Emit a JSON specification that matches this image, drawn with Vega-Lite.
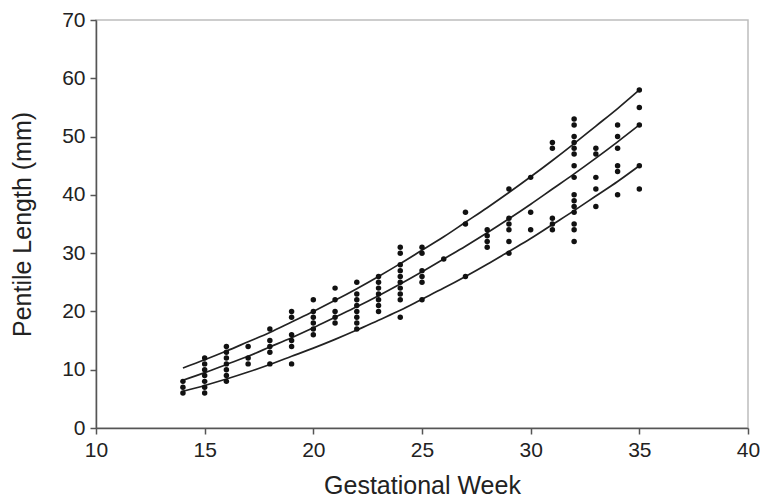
{
  "$schema": "https://vega.github.io/schema/vega-lite/v6.json",
  "width": 652,
  "height": 408,
  "autosize": {"type": "none"},
  "padding": {"left": 96, "top": 20, "right": 14, "bottom": 71},
  "background": "white",
  "config": {
    "font": "Liberation Sans",
    "view": {"stroke": "#bdbdbd", "strokeWidth": 1.5},
    "axis": {
      "grid": false,
      "labelFlush": false,
      "domainColor": "#555555",
      "domainWidth": 1.5,
      "tickColor": "#555555",
      "tickWidth": 1.5,
      "tickSize": 6,
      "labelFont": "Liberation Sans",
      "labelFontSize": 21,
      "labelColor": "#222222",
      "titleFont": "Liberation Sans",
      "titleFontSize": 25,
      "titleFontWeight": "normal",
      "titleColor": "#222222"
    }
  },
  "datasets": {
    "obs": [
      {"week": 14, "length": 6}, {"week": 14, "length": 7}, {"week": 14, "length": 8},
      {"week": 15, "length": 6}, {"week": 15, "length": 7}, {"week": 15, "length": 8}, {"week": 15, "length": 9}, {"week": 15, "length": 10}, {"week": 15, "length": 11}, {"week": 15, "length": 12},
      {"week": 16, "length": 8}, {"week": 16, "length": 9}, {"week": 16, "length": 10}, {"week": 16, "length": 11}, {"week": 16, "length": 12}, {"week": 16, "length": 13}, {"week": 16, "length": 14},
      {"week": 17, "length": 11}, {"week": 17, "length": 12}, {"week": 17, "length": 14},
      {"week": 18, "length": 11}, {"week": 18, "length": 13}, {"week": 18, "length": 14}, {"week": 18, "length": 15}, {"week": 18, "length": 17},
      {"week": 19, "length": 11}, {"week": 19, "length": 14}, {"week": 19, "length": 15}, {"week": 19, "length": 16}, {"week": 19, "length": 19}, {"week": 19, "length": 20},
      {"week": 20, "length": 16}, {"week": 20, "length": 17}, {"week": 20, "length": 18}, {"week": 20, "length": 19}, {"week": 20, "length": 20}, {"week": 20, "length": 22},
      {"week": 21, "length": 18}, {"week": 21, "length": 19}, {"week": 21, "length": 20}, {"week": 21, "length": 22}, {"week": 21, "length": 24},
      {"week": 22, "length": 17}, {"week": 22, "length": 18}, {"week": 22, "length": 19}, {"week": 22, "length": 20}, {"week": 22, "length": 21}, {"week": 22, "length": 22}, {"week": 22, "length": 23}, {"week": 22, "length": 25},
      {"week": 23, "length": 20}, {"week": 23, "length": 21}, {"week": 23, "length": 22}, {"week": 23, "length": 23}, {"week": 23, "length": 24}, {"week": 23, "length": 25}, {"week": 23, "length": 26},
      {"week": 24, "length": 19}, {"week": 24, "length": 22}, {"week": 24, "length": 23}, {"week": 24, "length": 24}, {"week": 24, "length": 25}, {"week": 24, "length": 26}, {"week": 24, "length": 27}, {"week": 24, "length": 28}, {"week": 24, "length": 30}, {"week": 24, "length": 31},
      {"week": 25, "length": 22}, {"week": 25, "length": 25}, {"week": 25, "length": 26}, {"week": 25, "length": 27}, {"week": 25, "length": 30}, {"week": 25, "length": 31},
      {"week": 26, "length": 29},
      {"week": 27, "length": 26}, {"week": 27, "length": 35}, {"week": 27, "length": 37},
      {"week": 28, "length": 31}, {"week": 28, "length": 32}, {"week": 28, "length": 33}, {"week": 28, "length": 34},
      {"week": 29, "length": 30}, {"week": 29, "length": 32}, {"week": 29, "length": 34}, {"week": 29, "length": 35}, {"week": 29, "length": 36}, {"week": 29, "length": 41},
      {"week": 30, "length": 34}, {"week": 30, "length": 37}, {"week": 30, "length": 43},
      {"week": 31, "length": 34}, {"week": 31, "length": 35}, {"week": 31, "length": 36}, {"week": 31, "length": 48}, {"week": 31, "length": 49},
      {"week": 32, "length": 32}, {"week": 32, "length": 34}, {"week": 32, "length": 35}, {"week": 32, "length": 37}, {"week": 32, "length": 38}, {"week": 32, "length": 39}, {"week": 32, "length": 40}, {"week": 32, "length": 43}, {"week": 32, "length": 45}, {"week": 32, "length": 47}, {"week": 32, "length": 48}, {"week": 32, "length": 49}, {"week": 32, "length": 50}, {"week": 32, "length": 52}, {"week": 32, "length": 53},
      {"week": 33, "length": 38}, {"week": 33, "length": 41}, {"week": 33, "length": 43}, {"week": 33, "length": 47}, {"week": 33, "length": 48},
      {"week": 34, "length": 40}, {"week": 34, "length": 44}, {"week": 34, "length": 45}, {"week": 34, "length": 48}, {"week": 34, "length": 50}, {"week": 34, "length": 52},
      {"week": 35, "length": 41}, {"week": 35, "length": 45}, {"week": 35, "length": 52}, {"week": 35, "length": 55}, {"week": 35, "length": 58}
    ],
    "curves": [
      {"curve": "upper", "week": 14, "length": 10.3}, {"curve": "upper", "week": 15, "length": 11.7}, {"curve": "upper", "week": 16, "length": 13.2}, {"curve": "upper", "week": 17, "length": 14.8}, {"curve": "upper", "week": 18, "length": 16.4}, {"curve": "upper", "week": 19, "length": 18.2}, {"curve": "upper", "week": 20, "length": 20.0}, {"curve": "upper", "week": 21, "length": 21.9}, {"curve": "upper", "week": 22, "length": 23.9}, {"curve": "upper", "week": 23, "length": 26.0}, {"curve": "upper", "week": 24, "length": 28.2}, {"curve": "upper", "week": 25, "length": 30.5}, {"curve": "upper", "week": 26, "length": 32.8}, {"curve": "upper", "week": 27, "length": 35.3}, {"curve": "upper", "week": 28, "length": 37.8}, {"curve": "upper", "week": 29, "length": 40.4}, {"curve": "upper", "week": 30, "length": 43.1}, {"curve": "upper", "week": 31, "length": 45.9}, {"curve": "upper", "week": 32, "length": 48.8}, {"curve": "upper", "week": 33, "length": 51.8}, {"curve": "upper", "week": 34, "length": 54.8}, {"curve": "upper", "week": 35, "length": 58.0},
      {"curve": "middle", "week": 14, "length": 8.2}, {"curve": "middle", "week": 15, "length": 9.5}, {"curve": "middle", "week": 16, "length": 10.9}, {"curve": "middle", "week": 17, "length": 12.3}, {"curve": "middle", "week": 18, "length": 13.9}, {"curve": "middle", "week": 19, "length": 15.5}, {"curve": "middle", "week": 20, "length": 17.2}, {"curve": "middle", "week": 21, "length": 19.0}, {"curve": "middle", "week": 22, "length": 20.8}, {"curve": "middle", "week": 23, "length": 22.7}, {"curve": "middle", "week": 24, "length": 24.7}, {"curve": "middle", "week": 25, "length": 26.8}, {"curve": "middle", "week": 26, "length": 29.0}, {"curve": "middle", "week": 27, "length": 31.2}, {"curve": "middle", "week": 28, "length": 33.5}, {"curve": "middle", "week": 29, "length": 35.9}, {"curve": "middle", "week": 30, "length": 38.4}, {"curve": "middle", "week": 31, "length": 41.0}, {"curve": "middle", "week": 32, "length": 43.6}, {"curve": "middle", "week": 33, "length": 46.3}, {"curve": "middle", "week": 34, "length": 49.1}, {"curve": "middle", "week": 35, "length": 52.0},
      {"curve": "lower", "week": 14, "length": 6.3}, {"curve": "lower", "week": 15, "length": 7.3}, {"curve": "lower", "week": 16, "length": 8.4}, {"curve": "lower", "week": 17, "length": 9.6}, {"curve": "lower", "week": 18, "length": 10.9}, {"curve": "lower", "week": 19, "length": 12.3}, {"curve": "lower", "week": 20, "length": 13.7}, {"curve": "lower", "week": 21, "length": 15.2}, {"curve": "lower", "week": 22, "length": 16.8}, {"curve": "lower", "week": 23, "length": 18.5}, {"curve": "lower", "week": 24, "length": 20.2}, {"curve": "lower", "week": 25, "length": 22.1}, {"curve": "lower", "week": 26, "length": 24.0}, {"curve": "lower", "week": 27, "length": 26.0}, {"curve": "lower", "week": 28, "length": 28.1}, {"curve": "lower", "week": 29, "length": 30.3}, {"curve": "lower", "week": 30, "length": 32.5}, {"curve": "lower", "week": 31, "length": 34.9}, {"curve": "lower", "week": 32, "length": 37.3}, {"curve": "lower", "week": 33, "length": 39.8}, {"curve": "lower", "week": 34, "length": 42.3}, {"curve": "lower", "week": 35, "length": 45.0}
    ]
  },
  "encoding": {
    "x": {
      "field": "week", "type": "quantitative",
      "scale": {"domain": [10, 40], "nice": false, "zero": false},
      "axis": {"values": [10, 15, 20, 25, 30, 35, 40], "title": "Gestational Week", "titlePadding": 13, "labelPadding": 5}
    },
    "y": {
      "field": "length", "type": "quantitative",
      "scale": {"domain": [0, 70], "nice": false},
      "axis": {"values": [0, 10, 20, 30, 40, 50, 60, 70], "title": "Pentile Length (mm)", "titlePadding": 26, "labelPadding": 5}
    }
  },
  "layer": [
    {
      "data": {"name": "curves"},
      "mark": {"type": "line", "color": "#222222", "strokeWidth": 1.7, "interpolate": "monotone"},
      "encoding": {"detail": {"field": "curve", "type": "nominal"}}
    },
    {
      "data": {"name": "obs"},
      "mark": {"type": "circle", "color": "#111111", "opacity": 1, "size": 30}
    }
  ]
}
